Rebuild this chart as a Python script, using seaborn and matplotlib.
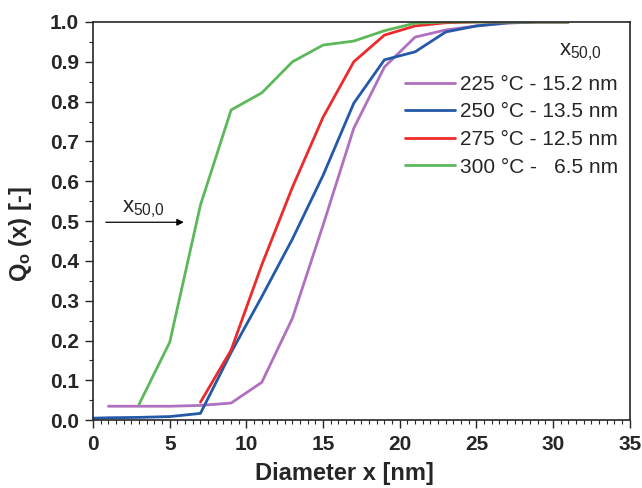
import numpy as np
import pandas as pd
import matplotlib
matplotlib.use("Agg")
import matplotlib.pyplot as plt
import seaborn as sns
from matplotlib.ticker import MultipleLocator

# ---- data ----
x_225 = [1, 3, 5, 7, 9, 11, 13, 15, 17, 19, 21, 23, 25, 27, 29, 31]
q_225 = [0.035, 0.035, 0.035, 0.037, 0.043, 0.095, 0.256, 0.49, 0.733, 0.887, 0.962, 0.98, 0.99, 0.997, 1.0, 1.0]

x_250 = [0, 1, 3, 5, 7, 9, 11, 13, 15, 17, 19, 21, 23, 25, 27, 29, 31]
q_250 = [0.005, 0.006, 0.007, 0.009, 0.017, 0.17, 0.31, 0.455, 0.615, 0.796, 0.905, 0.925, 0.975, 0.99, 0.998, 1.0, 1.0]

x_275 = [7, 9, 11, 13, 15, 17, 19, 21, 23, 25, 27, 29, 31]
q_275 = [0.045, 0.176, 0.39, 0.585, 0.761, 0.90, 0.967, 0.99, 0.998, 1.0, 1.0, 1.0, 1.0]

x_300 = [3, 5, 7, 9, 11, 13, 15, 17, 19, 21, 23, 25, 27, 29, 31]
q_300 = [0.04, 0.196, 0.54, 0.779, 0.822, 0.90, 0.942, 0.952, 0.978, 0.997, 1.0, 1.0, 1.0, 1.0, 1.0]

labels = ["225 °C - 15.2 nm", "250 °C - 13.5 nm", "275 °C - 12.5 nm", "300 °C -   6.5 nm"]
colors = ["#b070c0", "#2458a8", "#ec2a2c", "#5cb85a"]

frames = []
for lab, xs, qs in zip(labels, [x_225, x_250, x_275, x_300], [q_225, q_250, q_275, q_300]):
    frames.append(pd.DataFrame({"x": xs, "q": qs, "series": lab}))
df = pd.concat(frames, ignore_index=True)

# ---- style ----
sns.set_style("ticks")
plt.rcParams["font.family"] = ["Liberation Sans", "DejaVu Sans"]
plt.rcParams["mathtext.fontset"] = "custom"
plt.rcParams["mathtext.rm"] = "Liberation Sans"
plt.rcParams["mathtext.bf"] = "Liberation Sans:bold"
plt.rcParams["mathtext.it"] = "Liberation Sans:italic"

fig = plt.figure(figsize=(6.42, 4.88), dpi=100)
ax = fig.add_axes([0.145, 0.139, 0.836, 0.816])

sns.lineplot(data=df, x="x", y="q", hue="series", hue_order=labels,
             palette=colors, estimator=None, sort=False, linewidth=2.0, ax=ax)

ax.set_xlim(0, 35)
ax.set_ylim(0, 1.0)
ax.xaxis.set_major_locator(MultipleLocator(5))
ax.xaxis.set_minor_locator(MultipleLocator(0.5))
ax.yaxis.set_major_locator(MultipleLocator(0.1))
ax.yaxis.set_minor_locator(MultipleLocator(0.05))
ax.yaxis.set_major_formatter(matplotlib.ticker.FormatStrFormatter("%.1f"))
ax.tick_params(which="major", direction="out", length=6, width=1.0, labelsize=15)
ax.tick_params(which="minor", direction="out", length=3, width=0.8)
ax.tick_params(axis="x", which="major", pad=5)
ax.tick_params(axis="y", which="major", pad=4)
for lbl in ax.get_xticklabels() + ax.get_yticklabels():
    lbl.set_fontweight("bold")
for s in ax.spines.values():
    s.set_linewidth(1.2)
    s.set_visible(True)

ax.set_xlabel("Diameter x [nm]", fontsize=17, fontweight="bold")
ax.set_ylabel(r"$\mathbf{Q_o}$ (x) [-]", fontsize=17, fontweight="bold")
ax.xaxis.set_label_coords(0.469, -0.105)
ax.yaxis.set_label_coords(-0.111, 0.467)

# arrow annotation
ax.annotate("", xy=(6.1, 0.497), xytext=(0.65, 0.497),
            arrowprops=dict(arrowstyle="-|>", color="black", lw=0.9, mutation_scale=10))
ax.text(1.9, 0.523, r"x$_{\mathrm{50{,}0}}$", fontsize=16, ha="left", va="baseline")

# legend title as text
ax.text(33.2, 0.917, r"x$_{\mathrm{50{,}0}}$", fontsize=16, ha="right", va="baseline")

leg = ax.legend(loc="upper left", bbox_to_anchor=(0.581, 0.867),
                frameon=False, fontsize=15, handlelength=2.4,
                handletextpad=0.25, labelspacing=0.41, borderpad=0, borderaxespad=0)
for line in leg.get_lines():
    line.set_linewidth(2.0)

fig.savefig("out.png", dpi=100)
